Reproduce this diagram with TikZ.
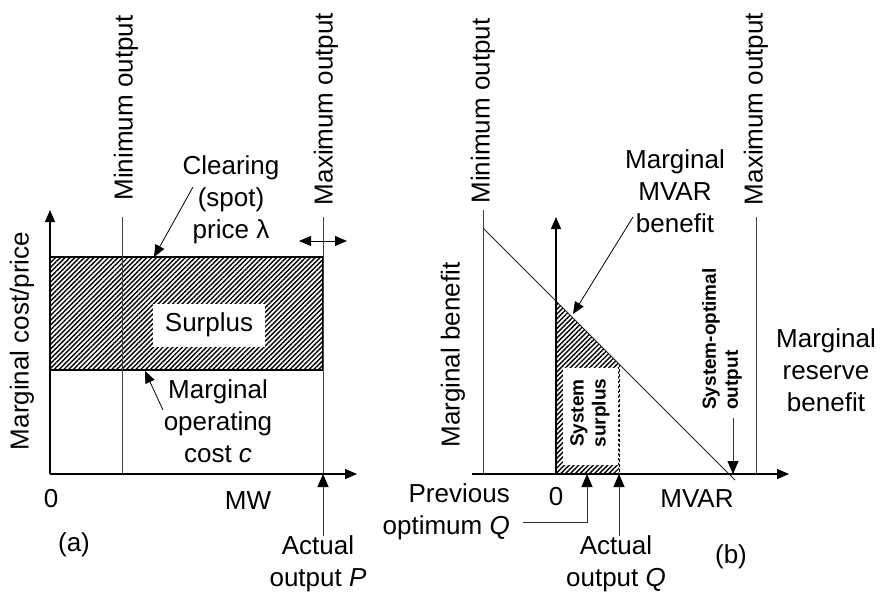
\documentclass[tikz,border=0pt]{standalone}
\usepackage{fontspec}
\setmainfont{Liberation Sans}
\usetikzlibrary{arrows.meta,patterns.meta}

\tikzset{
  guide/.style={black!75, line width=1pt},
  axis/.style={line width=1.2pt, -{Triangle[length=12pt,width=10pt]}},
  pointer/.style={black!80, line width=0.9pt, -{Triangle[length=13pt,width=11pt,fill=black,color=black]}},
  slim/.style={line width=0.8pt, -{Triangle[length=12pt,width=10pt]}},
  hatched/.style={pattern={Lines[angle=45,distance=3.4pt,line width=1.4pt]}},
  lbl/.style={font=\fontsize{26}{32}\selectfont, align=center, inner sep=0pt},
  tiny/.style={font=\bfseries\fontsize{19}{22}\selectfont, align=center, inner sep=0pt},
}

\begin{document}
\begin{tikzpicture}[x=1pt,y=-1pt]
	\useasboundingbox (0,0) rectangle (881,592);

	% (a) generator MW market
	\fill[hatched] (50,257) rectangle (323,370);
	\draw[line width=1.2pt] (50,257) rectangle (323,370);
	\draw[guide] (122,217) -- (122,474);
	\draw[guide] (323,217) -- (323,474);
	\coordinate (oa) at (50,474);
	\coordinate (ya) at (50,210);
	\coordinate (xa) at (357,474);
	\draw[axis] (oa) -- (ya);
	\draw[axis] (oa) -- (xa);

	\node[lbl, fill=white, minimum width=112pt, minimum height=43pt] (surplus) at (209,325) {Surplus};
	\node[lbl, rotate=90] (minlblA) at (126,108) {Minimum output};
	\node[lbl, rotate=90] (maxlblA) at (326,109) {Maximum output};
	\node[lbl, rotate=90] (ylblA) at (22,341) {Marginal cost/price};
	\node[lbl] (clearing) at (231,200) {Clearing\\(spot)\\price λ};
	\node[lbl] (mcost) at (218,421) {Marginal\\operating\\cost \textit{c}};
	\node[lbl] (zeroA) at (51,499) {0};
	\node[lbl] (mw) at (248,501) {MW};
	\node[lbl] (capA) at (74,545) {(a)};
	\node[lbl] (actP) at (318,564) {Actual\\output \textit{P}};

	\coordinate (clrtail) at (193,187);
	\coordinate (clrtip) at (154,257);
	\coordinate (mctail) at (163,410);
	\coordinate (mctip) at (145,371);
	\coordinate (pa) at (323,474);
	\coordinate (dl) at (299,241);
	\coordinate (dr) at (347,241);
	\draw[slim] (clrtail) -- (clrtip);
	\draw[slim] (mctail) -- (mctip);
	\draw[line width=0.9pt, {Triangle[length=12pt,width=10pt]}-{Triangle[length=12pt,width=10pt]}] (dl) -- (dr);
	\draw[pointer] (pa |- actP.north) -- (pa);

	% (b) reactive power
	\fill[hatched] (556,474) -- (556,301) -- (619,364) -- (619,474) -- cycle;
	\node[fill=white, minimum width=55pt, minimum height=97pt, inner sep=0pt] (ssbox) at (590.5,416.5) {};
	\draw[line width=1pt, densely dashed] (619,364) -- (619,474);
	\draw[guide] (483,210) -- (483,474);
	\draw[guide] (756,217) -- (756,474);
	\draw[line width=0.9pt, black!85] (483,228) -- (735,480);
	\coordinate (ob) at (556,474);
	\coordinate (yb) at (556,217);
	\coordinate (xl) at (472,474);
	\coordinate (xb) at (789,474);
	\draw[axis] (ob) -- (yb);
	\draw[axis] (xl) -- (xb);

	\node[tiny, rotate=90] (syssur) at (590,413) {System\\surplus};
	\node[tiny, rotate=90, align=left] (sysopt) at (722,339) {System-optimal\\output};
	\node[lbl, rotate=90] (minlblB) at (483,111) {Minimum output};
	\node[lbl, rotate=90] (maxlblB) at (756,109) {Maximum output};
	\node[lbl, rotate=90] (ylblB) at (453,355) {Marginal benefit};
	\node[lbl] (mvarben) at (675,191) {Marginal\\MVAR\\benefit};
	\node[lbl] (reserve) at (826,370) {Marginal\\reserve\\benefit};
	\node[lbl] (zeroB) at (556,497) {0};
	\node[lbl] (mvar) at (697,499) {MVAR};
	\node[lbl, align=right, anchor=east] (prevopt) at (510,512) {Previous\\optimum \textit{Q}};
	\node[lbl] (actQ) at (616,564) {Actual\\output \textit{Q}};
	\node[lbl] (capB) at (731,557) {(b)};

	\coordinate (mbtail) at (633,217);
	\coordinate (mbtip) at (573,314);
	\coordinate (sotail) at (733,418);
	\coordinate (so) at (733,474);
	\coordinate (pqtail) at (523,522);
	\coordinate (pq) at (587,474);
	\coordinate (aq) at (619,474);
	\draw[slim] (mbtail) -- (mbtip);
	\draw[pointer] (sotail) -- (so);
	\draw[pointer] (pqtail) -| (pq);
	\draw[pointer] (aq |- actQ.north) -- (aq);
\end{tikzpicture}
\end{document}
